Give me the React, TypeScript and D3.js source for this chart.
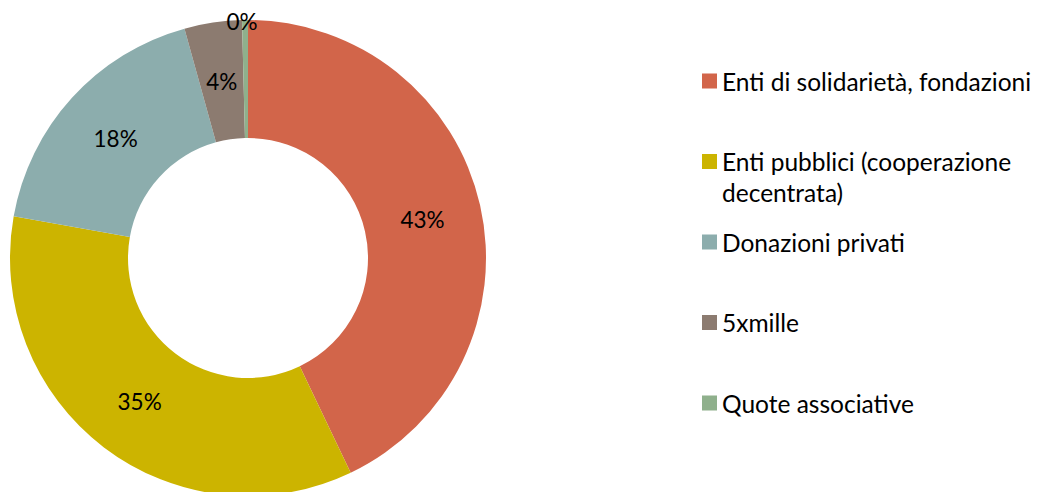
import React from "react";
import * as d3 from "d3";

const categories = [
  "Enti di solidarietà, fondazioni",
  "Enti pubblici (cooperazione decentrata)",
  "Donazioni privati",
  "5xmille",
  "Quote associative",
];
const values = [42.9, 34.9, 17.9, 3.9, 0.4];
const labels = ["43%", "35%", "18%", "4%", "0%"];
const legendLines = [
  ["Enti di solidarietà, fondazioni"],
  ["Enti pubblici (cooperazione", "decentrata)"],
  ["Donazioni privati"],
  ["5xmille"],
  ["Quote associative"],
];
const colors = ["#D2654A", "#CCB400", "#8CADAD", "#8C7B70", "#8FB08C"];

const W = 1050;
const H = 492;
const cx = 248;
const cy = 258;
const rOuter = 238;
const rInner = 120;
const FONT = "Lato, 'Open Sans', sans-serif";

export default function App() {
  const pie = d3
    .pie<number>()
    .sort(null)
    .value((d) => d);
  const arcs = pie(values);
  const arc = d3.arc<d3.PieArcDatum<number>>().innerRadius(rInner).outerRadius(rOuter);
  const labelArc = d3
    .arc<d3.PieArcDatum<number>>()
    .innerRadius((rInner + rOuter) / 2)
    .outerRadius((rInner + rOuter) / 2);
  const edgeArc = d3.arc<d3.PieArcDatum<number>>().innerRadius(rOuter).outerRadius(rOuter);

  const legendY = d3.scalePoint<number>().domain(d3.range(categories.length)).range([81, 403]);

  return (
    <svg
      width={W}
      height={H}
      style={{ position: "absolute", left: 0, top: 0, background: "#fff" }}
      fontFamily={FONT}
    >
      <g transform={`translate(${cx},${cy})`}>
        {arcs.map((a, i) => (
          <path key={i} d={arc(a) || ""} fill={colors[i]} />
        ))}
        {arcs.map((a, i) => {
          const small = a.endAngle - a.startAngle < 0.05;
          const [x, y] = small ? edgeArc.centroid(a) : labelArc.centroid(a);
          return (
            <text
              key={i}
              x={small ? x - 3 : x}
              y={y + 1}
              textAnchor="middle"
              dominantBaseline="central"
              fontSize={22.5}
              fill="#000"
            >
              {labels[i]}
            </text>
          );
        })}
      </g>
      <g>
        {categories.map((c, i) => {
          const y = legendY(i)!;
          return (
            <g key={c}>
              <rect x={702} y={y - 7.5} width={15} height={15} fill={colors[i]} />
              {legendLines[i].map((line, j) => (
                <text
                  key={j}
                  x={722}
                  y={y + j * 31}
                  dominantBaseline="central"
                  fontSize={24.5}
                  fill="#000"
                >
                  {line}
                </text>
              ))}
            </g>
          );
        })}
      </g>
    </svg>
  );
}
